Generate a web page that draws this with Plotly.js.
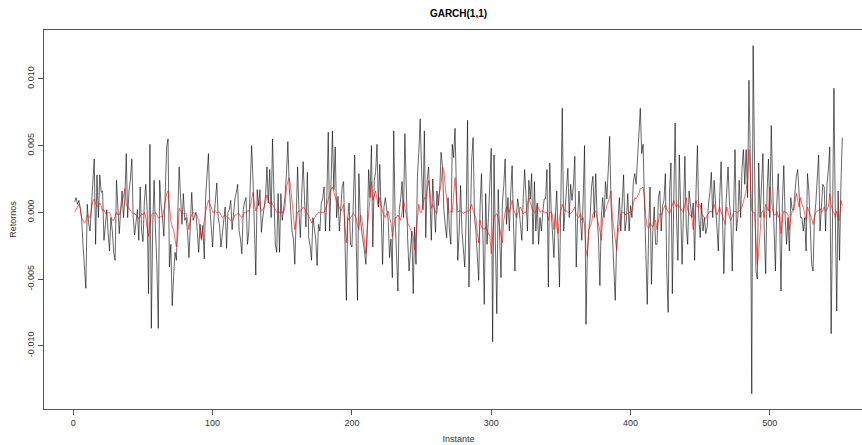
<!DOCTYPE html>
<html><head><meta charset="utf-8">
<script src="https://cdn.plot.ly/plotly-3.0.1.min.js"></script>
<style>html,body{margin:0;padding:0;overflow:hidden;background:#fff}#chart{width:885px;height:445px}</style>
</head><body><div id="chart"></div>
<script>
const retornos = [
0.0008,0.0011,0.0006,0.0009,0.0003,-0.0005,-0.0025,-0.0040,-0.0057,0.0006,
-0.0008,-0.0014,0.0005,0.0020,0.0040,-0.0024,0.0028,-0.0004,0.0028,0.0015,
0.0016,-0.0021,-0.0008,0.0002,-0.0015,-0.0029,-0.0004,-0.0014,-0.0030,-0.0036,
0.0024,0.0005,-0.0016,0.0002,0.0016,-0.0004,0.0010,0.0044,-0.0004,0.0016,
0.0025,0.0040,-0.0004,-0.0017,-0.0007,0.0002,-0.0021,0.0019,-0.0014,-0.0022,
0.0008,0.0021,0.0002,-0.0061,0.0051,-0.0087,-0.0010,0.0024,-0.0014,-0.0040,
-0.0087,0.0024,0.0005,-0.0004,-0.0018,0.0020,0.0049,0.0055,-0.0041,-0.0024,
-0.0070,-0.0048,-0.0030,-0.0036,0.0007,0.0034,0.0011,-0.0009,0.0014,-0.0006,
-0.0004,-0.0015,-0.0034,-0.0005,0.0015,-0.0006,-0.0002,0,-0.0015,-0.0030,
-0.0009,-0.0020,-0.0010,-0.0035,0.0012,0.0025,0.0044,0.0004,-0.0015,-0.0026,
-0.0004,0.0007,0.0022,-0.0004,-0.0010,-0.0026,-0.0014,-0.0002,0.0004,-0.0027,
0,0.0002,0.0009,-0.0013,0.0002,0.0010,0.0015,0.0021,-0.0014,-0.0020,
-0.0031,0.0002,0.0008,0.0011,-0.0024,-0.0014,0.0020,0.0050,0.0024,-0.0004,
-0.0047,0.0017,0.0005,0.0017,-0.0015,-0.0004,0.0005,0.0012,0.0034,0.0007,
0.0032,-0.0004,0.0055,0.0012,-0.0024,-0.0030,0.0014,-0.0030,0.0014,-0.0006,
0.0005,0.0012,0.0029,0.0053,0.0019,0.0002,-0.0014,-0.0020,-0.0039,-0.0004,
0.0034,0,-0.0019,0.0015,0.0038,0.0009,-0.0011,0.0030,-0.0019,-0.0025,
-0.0036,-0.0004,-0.0014,-0.0020,-0.0040,-0.0009,-0.0014,0.0007,0.0010,0.0019,
-0.0014,0.0012,0.0060,-0.0014,0.0022,0.0061,0.0017,0.0049,-0.0004,0.0012,
-0.0014,0,0.0019,0.0023,-0.0024,-0.0066,-0.0004,0.0007,-0.0024,-0.0026,
0.0007,0.0043,-0.0019,-0.0066,0.0029,-0.0004,-0.0014,-0.0020,-0.0029,-0.0039,
-0.0014,0.0032,0.0011,0.0050,-0.0026,0.0024,0.0030,0.0051,0.0004,0.0036,
0,-0.0039,0.0004,0.0011,0.0002,-0.0005,-0.0034,-0.0020,-0.0049,0.0061,
-0.0004,-0.0029,-0.0059,0.0002,0.0010,0.0023,-0.0004,0.0059,0.0007,-0.0020,
-0.0044,-0.0029,-0.0014,-0.0061,-0.0011,-0.0039,0.0026,0.0045,0.0070,0.0032,
0.0002,0.0061,-0.0019,0.0024,0.0034,0.0010,-0.0021,0.0025,0,-0.0015,
0.0016,0.0005,0.0016,0.0045,0.0034,0.0002,-0.0010,-0.0019,0.0011,-0.0014,
-0.0024,0.0051,0.0041,0.0063,0.0017,-0.0036,-0.0014,0.0020,-0.0014,-0.0025,
-0.0041,-0.0004,0.0069,-0.0056,-0.0009,0.0040,0.0056,-0.0004,-0.0014,-0.0034,
-0.0051,0.0005,0.0029,-0.0016,-0.0069,0.0014,-0.0024,-0.0004,0.0030,0.0048,
-0.0097,0.0043,-0.0024,-0.0076,0.0017,-0.0019,-0.0049,0.0007,0.0020,0.0040,
-0.0009,0.0011,-0.0014,0.0015,0.0035,-0.0009,-0.0044,-0.0004,0.0010,0.0002,
-0.0010,-0.0021,0.0011,0.0032,0.0011,-0.0014,0.0024,0.0010,0.0029,-0.0024,
0.0023,-0.0014,0.0007,-0.0024,-0.0004,-0.0014,0,0.0010,0.0010,0.0032,
-0.0056,0.0037,0.0002,-0.0019,-0.0034,-0.0004,0.0016,-0.0019,-0.0056,0.0011,
0.0078,-0.0014,0.0005,0.0016,0.0033,-0.0004,0.0021,0.0009,0.0020,0.0042,
-0.0041,-0.0004,0.0016,-0.0004,-0.0021,0.0010,0.0050,-0.0084,-0.0030,-0.0014,
-0.0004,0.0019,0.0027,-0.0004,0.0029,-0.0004,-0.0020,-0.0055,-0.0004,0.0011,
-0.0004,0.0023,0.0010,0.0032,0.0057,0.0007,-0.0014,-0.0039,-0.0066,-0.0024,
-0.0006,0.0011,-0.0014,0.0010,0.0028,-0.0014,-0.0006,0.0014,-0.0014,0.0005,
-0.0004,0.0023,0.0029,0.0021,0.0040,0.0061,0.0078,0.0044,0.0051,0.0007,
-0.0024,-0.0069,-0.0014,0.0019,-0.0054,-0.0014,0.0004,-0.0024,-0.0024,0.0011,
0.0016,-0.0014,0.0005,0.0009,0.0029,-0.0044,-0.0075,0.0016,0.0037,-0.0061,
0.0007,0.0067,-0.0004,-0.0036,0.0043,0.0007,-0.0039,0,0.0042,-0.0011,
-0.0024,0.0016,0.0005,-0.0004,0.0007,-0.0036,0.0016,0.0050,-0.0004,-0.0019,
0.0007,-0.0014,-0.0004,-0.0016,-0.0011,0.0007,0.0015,0.0030,-0.0004,0.0024,
0.0007,-0.0010,-0.0029,0.0011,0.0038,-0.0004,-0.0046,-0.0004,0.0015,0.0034,
0.0007,-0.0004,-0.0044,0.0016,0.0047,-0.0014,-0.0004,0.0024,-0.0004,0.0032,
0.0047,0.0021,0.0047,0.0011,0.0099,0.0037,-0.0136,0.0125,0.0029,-0.0044,
-0.0050,0.0037,-0.0004,0.0020,0.0044,-0.0014,-0.0046,0.0016,0.0040,-0.0004,
0.0065,0.0020,-0.0014,-0.0044,0.0007,0.0029,-0.0004,-0.0059,0.0007,0.0035,
-0.0004,-0.0024,-0.0004,-0.0029,0.0011,0.0002,0.0002,0.0014,0.0027,0.0032,
0.0011,-0.0004,-0.0004,-0.0014,-0.0004,-0.0029,0.0029,0.0016,-0.0010,-0.0039,
-0.0044,-0.0004,0.0007,0.0029,0.0043,-0.0014,0.0002,0.0021,0.0019,-0.0014,
0.0021,0.0032,0.0049,-0.0091,-0.0004,0.0093,-0.0004,-0.0074,0.0016,-0.0036,
0.0020,0.0056
];
const ajustados = [
0,0.0002,0.0004,0.0006,0.0003,-0.0004,-0.0006,-0.0008,-0.0007,-0.0002,
-0.0003,-0.0004,0.0002,0.0008,0.0010,0.0006,0.0005,0.0004,0.0007,0.0005,
0.0001,0.0002,-0.0001,-0.0001,0,0,-0.0003,-0.0006,-0.0006,-0.0002,
0,-0.0002,-0.0002,0.0002,0.0006,0.0012,0.0018,0.0006,0.0004,0.0003,
0.0001,0,-0.0001,-0.0001,-0.0002,-0.0003,-0.0005,-0.0003,-0.0001,-0.0002,
0,-0.0004,-0.0010,-0.0018,-0.0008,-0.0002,-0.0001,-0.0001,0,-0.0002,
-0.0004,-0.0004,-0.0003,-0.0004,0.0002,0.0009,0.0014,0.0016,0.0001,-0.0006,
-0.0011,-0.0013,-0.0020,-0.0026,-0.0018,0.0003,0.0001,0,-0.0001,-0.0001,
-0.0001,-0.0006,-0.0013,-0.0004,-0.0002,0,-0.0001,-0.0001,-0.0003,-0.0006,
-0.0014,-0.0021,-0.0012,-0.0007,0.0001,0.0005,0.0009,0.0006,0.0004,0,
0,0.0001,0,0,0,-0.0002,-0.0004,-0.0003,-0.0002,-0.0003,
-0.0004,-0.0005,-0.0006,-0.0006,-0.0005,-0.0002,-0.0002,-0.0001,-0.0001,-0.0003,
-0.0004,-0.0002,0,0,0.0001,0.0001,0.0004,0.0010,0.0015,0.0006,
0.0001,0.0004,0.0009,0.0005,0.0001,0.0002,0.0004,0.0008,0.0013,0.0009,
0.0006,0.0008,0.0006,0.0003,0.0001,0,0,0,0,0,
0,0.0004,0.0019,0.0023,0.0026,0.0019,0.0008,0.0001,-0.0013,-0.0006,
0,0.0001,0.0001,0.0002,0.0004,0.0003,0.0001,0,-0.0002,-0.0005,
-0.0008,-0.0006,-0.0004,-0.0002,-0.0001,0,0,0,0,0,
0.0002,0.0006,0.0010,0.0014,0.0017,0.0019,0.0015,0.0011,0.0008,0.0006,
0.0003,0.0001,0.0003,0.0006,-0.0010,-0.0023,-0.0004,-0.0006,-0.0004,-0.0002,
-0.0001,-0.0002,-0.0004,-0.0010,-0.0013,-0.0002,-0.0004,-0.0012,-0.0023,-0.0031,
-0.0013,0.0001,0.0011,0.0023,0.0009,0.0012,0.0016,0.0010,0.0004,0.0011,
0.0006,0,-0.0002,-0.0004,-0.0001,0.0001,-0.0004,-0.0008,-0.0018,-0.0010,
-0.0004,-0.0004,-0.0002,-0.0004,-0.0006,0.0001,0.0009,0.0004,-0.0002,-0.0008,
-0.0010,-0.0013,-0.0015,-0.0018,-0.0028,-0.0018,-0.0004,0.0006,0,0,
0.0006,0.0011,0.0010,0.0018,0.0024,0.0016,0.0003,0.0006,0.0002,0,
-0.0001,0.0011,0.0016,0.0021,0.0034,0.0031,0.0019,0.0008,0.0001,0,
0.0001,0,0.0011,0.0026,0.0011,0,0.0001,0.0001,0,-0.0001,
0,0,0.0001,0.0001,0.0003,0.0006,0.0001,-0.0002,-0.0004,-0.0015,
-0.0023,-0.0006,-0.0011,-0.0012,-0.0013,-0.0011,-0.0013,-0.0015,-0.0018,-0.0031,
-0.0016,-0.0004,-0.0002,-0.0001,-0.0004,-0.0013,-0.0018,-0.0023,-0.0006,0,
0.0004,0.0002,0,0.0004,0.0009,0.0002,0,-0.0004,0,0.0002,
0.0004,0.0001,-0.0001,0,0,0.0006,0.0011,0.0007,0.0004,0.0001,
0,0,0.0006,0.0002,0,0.0001,0.0001,0,0,0,
-0.0006,0,0,-0.0002,-0.0013,-0.0001,-0.0011,-0.0016,-0.0004,0.0001,
0.0006,0.0003,0.0001,0.0001,0,0,-0.0001,0,0.0002,0.0004,
-0.0002,-0.0003,-0.0004,-0.0001,-0.0006,-0.0004,-0.0010,-0.0028,-0.0033,-0.0013,
-0.0010,-0.0008,-0.0001,0,0.0001,-0.0004,-0.0008,-0.0014,-0.0021,-0.0004,
0,0.0001,0.0005,0.0008,0.0011,0.0016,-0.0004,-0.0012,-0.0021,-0.0028,
-0.0016,-0.0006,-0.0001,0,0,-0.0002,-0.0001,-0.0001,0,0,
0.0001,0.0006,0.0011,0.0010,0.0012,0.0014,0.0018,0.0018,0.0019,0.0011,
-0.0004,-0.0011,-0.0012,-0.0008,-0.0010,-0.0011,-0.0006,-0.0006,-0.0013,-0.0006,
-0.0001,-0.0002,0.0001,0.0003,0.0006,0.0002,0,-0.0001,0.0002,0.0006,
0.0009,0.0006,0.0004,0.0006,0.0004,0.0002,0.0001,0,0.0006,0.0011,
0.0002,-0.0001,-0.0002,-0.0004,-0.0013,0,0.0009,0.0004,0.0005,0.0006,
-0.0001,-0.0003,-0.0004,-0.0005,-0.0002,-0.0001,0.0001,0,0.0003,0.0006,
0.0001,-0.0002,0.0001,0.0004,0,-0.0002,-0.0006,-0.0009,0.0004,-0.0001,
-0.0004,-0.0006,-0.0002,0,0.0001,0,0,0.0001,0.0002,0.0004,
0.0009,0.0012,0.0016,0.0024,0.0047,0.0029,0.0001,0,0,-0.0019,
-0.0039,-0.0030,-0.0013,0,0.0001,-0.0004,0.0006,0.0003,0.0001,0.0019,
0.0011,0.0001,-0.0002,-0.0002,0.0001,-0.0004,-0.0001,-0.0016,-0.0004,0.0001,
0,0,-0.0002,-0.0013,-0.0004,0.0001,0.0001,0.0006,0.0014,0.0009,
0.0004,0.0011,0.0006,0.0004,0,-0.0006,0.0004,0,-0.0002,-0.0004,
-0.0009,-0.0004,0,0.0001,0.0001,0.0003,0,0.0001,0.0004,0.0001,
0.0002,0.0004,0.0014,0.0006,0.0001,0,-0.0004,0.0001,-0.0006,-0.0006,
0.0009,0.0005
];
const xTickVals = [0, 100, 200, 300, 400, 500];
const xTickText = ['0', '100', '200', '300', '400', '500'];
const yTickVals = [-0.010, -0.005, 0, 0.005, 0.010];
const yTickText = ['-0.010', '-0.005', '0.000', '0.005', '0.010'];

const fam = 'Liberation Sans, Arial, Helvetica, sans-serif';
const traces = [
  {type: 'scatter', mode: 'lines', name: 'Retornos', x0: 1, dx: 1, y: retornos,
   line: {color: '#000000', width: 0.6}},
  {type: 'scatter', mode: 'lines', name: 'GARCH(1,1)', x0: 1, dx: 1, y: ajustados,
   line: {color: '#ff0000', width: 0.6}}
];
const layout = {
  width: 885, height: 445,
  margin: {l: 44, r: 12, t: 30, b: 36},
  showlegend: false,
  paper_bgcolor: '#ffffff', plot_bgcolor: '#ffffff',
  font: {family: fam, size: 9, color: '#333333'},
  title: {text: '<b>GARCH(1,1)</b>', x: 0.5, xref: 'paper', xanchor: 'center',
          y: 1 - 13 / 445, yref: 'container', yanchor: 'middle',
          font: {family: fam, size: 10, color: '#000000'}},
  xaxis: {range: [-21.04, 574.04], tickmode: 'array', tickvals: xTickVals, ticktext: xTickText,
          ticks: 'outside', ticklen: 5, tickcolor: '#555555', tickwidth: 1,
          showline: true, mirror: true, linecolor: '#555555', linewidth: 1,
          showgrid: false, zeroline: false, tickfont: {size: 9, color: '#333333'},
          title: {text: 'Instante', standoff: 8, font: {size: 9, color: '#333333'}}},
  yaxis: {range: [-0.014745, 0.013666], tickmode: 'array', tickvals: yTickVals, ticktext: yTickText,
          tickangle: -90, ticks: 'outside', ticklen: 5, tickcolor: '#555555', tickwidth: 1,
          showline: true, mirror: true, linecolor: '#555555', linewidth: 1,
          showgrid: false, zeroline: false, tickfont: {size: 9, color: '#333333'},
          title: {text: 'Retornos', standoff: 8, font: {size: 9, color: '#333333'}}}
};
Plotly.newPlot('chart', traces, layout, {staticPlot: true, displayModeBar: false});
</script>
</body></html>
